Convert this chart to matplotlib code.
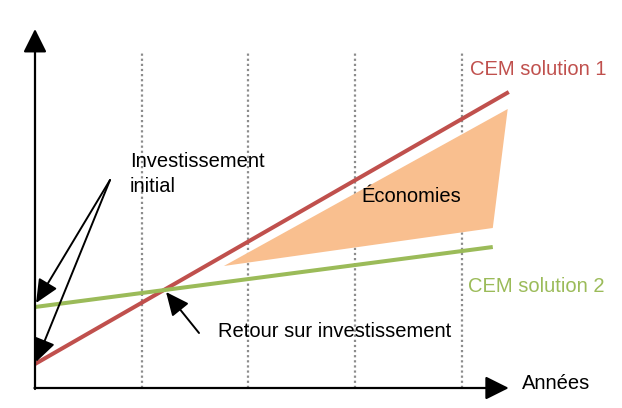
import matplotlib
matplotlib.use('Agg')
from matplotlib import pyplot as plt
from matplotlib.patches import Polygon

# values in "years" (x) and cost units (y)
years_grid = [1, 2, 3, 4]
grid_top = 33.6

sol1_x = [0, 4.44]
sol1_y = [2.4, 29.6]
sol2_x = [0, 4.29]
sol2_y = [8.1, 14.1]

savings_x = [1.77, 4.43, 4.29]
savings_y = [12.2, 27.9, 16.0]

axis_x_end = 4.44
axis_y_end = 35.9

red = '#C0504D'
green = '#9BBB59'
orange = '#F9BF8F'

plt.rcParams['font.family'] = ['Liberation Sans', 'DejaVu Sans']
fs = 14.5

fig = plt.figure(figsize=(6.22, 4.08), dpi=100)
ax = fig.add_axes([0, 0, 1, 1])
ax.set_xlim(-0.328, 5.501)
ax.set_ylim(-2.0, 38.8)
ax.axis('off')

# dotted year lines
for x in years_grid:
    ax.plot([x, x], [0, grid_top], color='#8C8C8C', lw=1.6,
            linestyle=(0, (1, 1.3)), zorder=1)

# savings area
ax.add_patch(Polygon(list(zip(savings_x, savings_y)), closed=True,
                     facecolor=orange, edgecolor='none', zorder=2))

ax.plot(sol1_x, sol1_y, color=red, lw=2.9, solid_capstyle='butt', zorder=3)
ax.plot(sol2_x, sol2_y, color=green, lw=2.9, solid_capstyle='butt', zorder=3)

# axes with arrow heads
head = dict(arrowstyle='-|>,head_length=1.1,head_width=0.55', color='black',
            lw=1.6, shrinkA=0, shrinkB=0, mutation_scale=13)
ax.annotate('', xy=(axis_x_end, 0), xytext=(-0.005, 0), arrowprops=head, zorder=4)
ax.annotate('', xy=(0, axis_y_end), xytext=(0, -0.1), arrowprops=head, zorder=4)

# annotation arrows
small = dict(arrowstyle='-|>,head_length=1.1,head_width=0.5', color='black',
             lw=1.4, shrinkA=0, shrinkB=0, mutation_scale=13)
ax.annotate('', xy=(0.01, 8.5), xytext=(0.703, 20.8), arrowprops=small, zorder=5)
ax.annotate('', xy=(0.01, 2.6), xytext=(0.703, 20.8), arrowprops=small, zorder=5)
ax.annotate('', xy=(1.228, 9.6), xytext=(1.537, 5.5), arrowprops=small, zorder=5)

ax.text(0.89, 19.6, 'Investissement\ninitial', fontsize=fs, va='baseline',
        ha='left', linespacing=1.4)
ax.text(1.715, 5.1, 'Retour sur investissement', fontsize=fs, va='baseline')
ax.text(3.055, 18.6, 'Économies', fontsize=fs, va='baseline')
ax.text(4.08, 31.3, 'CEM solution 1', fontsize=fs, va='baseline', color=red)
ax.text(4.06, 9.6, 'CEM solution 2', fontsize=fs, va='baseline', color=green)
ax.text(4.56, -0.1, 'Années', fontsize=fs, va='baseline')

fig.savefig('out.png', dpi=100)
